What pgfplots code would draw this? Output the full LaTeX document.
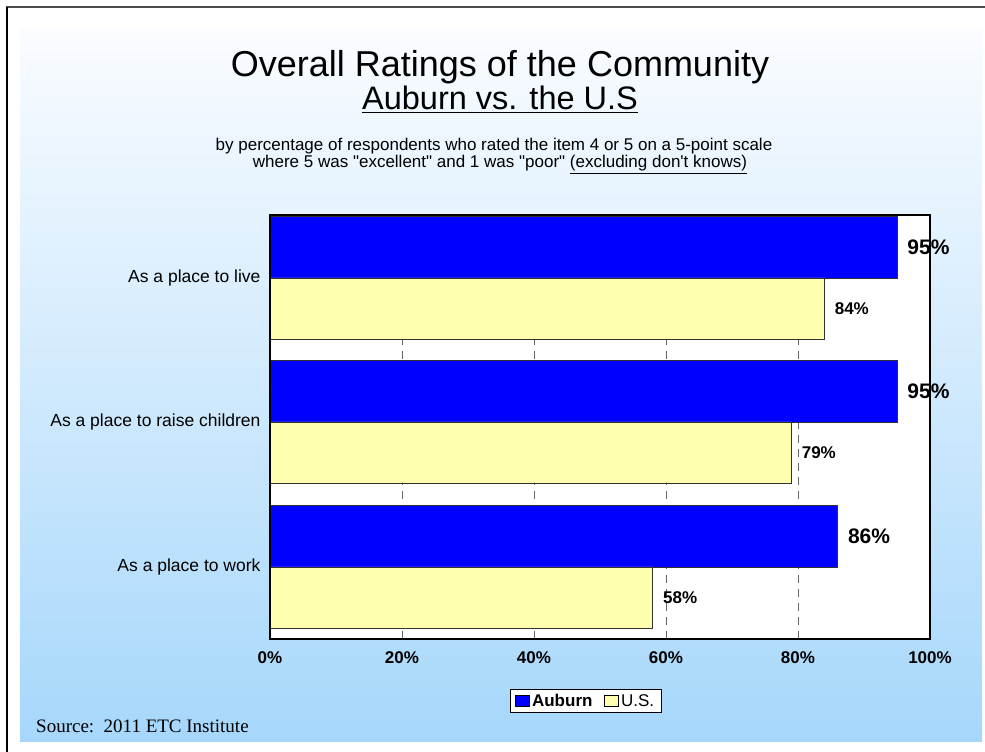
\documentclass[border=0pt]{standalone}
\usepackage{pgfplots}
\pgfplotsset{compat=1.18}
\usepackage{fontspec}
\setmainfont{Liberation Sans}
\newfontfamily\seriffont{Liberation Serif}
\definecolor{auburn}{RGB}{0,0,255}
\definecolor{usy}{RGB}{255,255,176}
\definecolor{edge}{RGB}{50,50,50}
\definecolor{bgtop}{RGB}{250,252,255}
\definecolor{bgbot}{RGB}{166,215,251}
\begin{document}
\begin{tikzpicture}
\useasboundingbox (0pt,0pt) rectangle (985pt,752pt);
\fill[white] (0pt,0pt) rectangle (985pt,752pt);
\shade[top color=bgtop, bottom color=bgbot] (20pt,10pt) rectangle (982pt,722pt);
\draw[line width=2pt, black!70] (6pt,745pt) -- (985pt,745pt);
\draw[line width=2pt, black] (7pt,745pt) -- (7pt,0pt);
% titles
\node[anchor=base, inner sep=0pt, font=\fontsize{36}{40}\selectfont] at (500pt,675pt) {Overall Ratings of the Community};
\node[anchor=base, inner sep=0pt, font=\fontsize{32.5}{38}\selectfont] at (500pt,642pt) {\underline{Auburn vs. the U.S}};
\node[anchor=base, inner sep=0pt, font=\fontsize{17}{20}\selectfont] at (494pt,601pt) {by percentage of respondents who rated the item 4 or 5 on a 5-point scale};
\node[anchor=base, inner sep=0pt, font=\fontsize{17}{20}\selectfont] at (500pt,584pt) {where 5 was \textquotedbl excellent\textquotedbl\ and 1 was \textquotedbl poor\textquotedbl\ \underline{(excluding don\textquotesingle t knows)}};
\node[anchor=base west, inner sep=0pt, font=\seriffont\fontsize{19}{22}\selectfont] at (36pt,19pt) {Source:\ \ 2011 ETC Institute};
\begin{axis}[
  at={(270pt,113pt)}, anchor=south west,
  width=660pt, height=424pt, scale only axis,
  xmin=0, xmax=100, ymin=0, ymax=424,
  xbar, clip=false,
  /pgf/number format/assume math mode=true,
  axis background/.style={fill=white},
  axis line style={draw=none},
  xtick={0,20,40,60,80,100},
  xticklabels={0\%,20\%,40\%,60\%,80\%,100\%},
  xmajorgrids,
  grid style={dash pattern=on 8pt off 6pt, line width=1pt, black!60},
  major tick length=0pt,
  ytick={72,217,361},
  yticklabels={As a place to work, As a place to raise children, As a place to live},
  tick label style={font=\fontsize{17.5}{20}\selectfont},
  xticklabel style={font=\bfseries\fontsize{17}{20}\selectfont, yshift=-9pt},
  yticklabel style={xshift=-6pt},
  nodes near coords={\pgfmathprintnumber[assume math mode=true]{\pgfplotspointmeta}\%},
  every node near coord/.append style={anchor=west, inner sep=0pt, xshift=10pt},
  legend style={at={(axis description cs:0.4785,-0.146)}, anchor=center,
    draw=black, line width=0.8pt, fill=white, inner xsep=5pt, inner ysep=2.5pt,
    font=\fontsize{17}{20}\selectfont,
    /tikz/every even column/.append style={column sep=10pt}},
  legend columns=2,
  legend cell align=left,
  legend image code/.code={\draw[#1,draw=black,line width=0.6pt] (0pt,-5pt) rectangle (14pt,6pt);},
]
\addplot[xbar, bar shift=0pt, bar width=61.5, fill=auburn, draw=edge, line width=0.8pt,
  every node near coord/.append style={font=\bfseries\fontsize{21}{24}\selectfont, text=black}]
  coordinates {(86,102.75) (95,247.75) (95,391.75)};
\addlegendentry{\textbf{Auburn}}
\addplot[xbar, bar shift=0pt, bar width=61.5, fill=usy, draw=edge, line width=0.8pt,
  every node near coord/.append style={font=\bfseries\fontsize{17}{20}\selectfont, text=black}]
  coordinates {(58,41.25) (79,186.25) (84,330.25)};
\addlegendentry{U.S.}
\draw[line width=2pt, black] (rel axis cs:0,0) rectangle (rel axis cs:1,1);
\end{axis}
\end{tikzpicture}
\end{document}
